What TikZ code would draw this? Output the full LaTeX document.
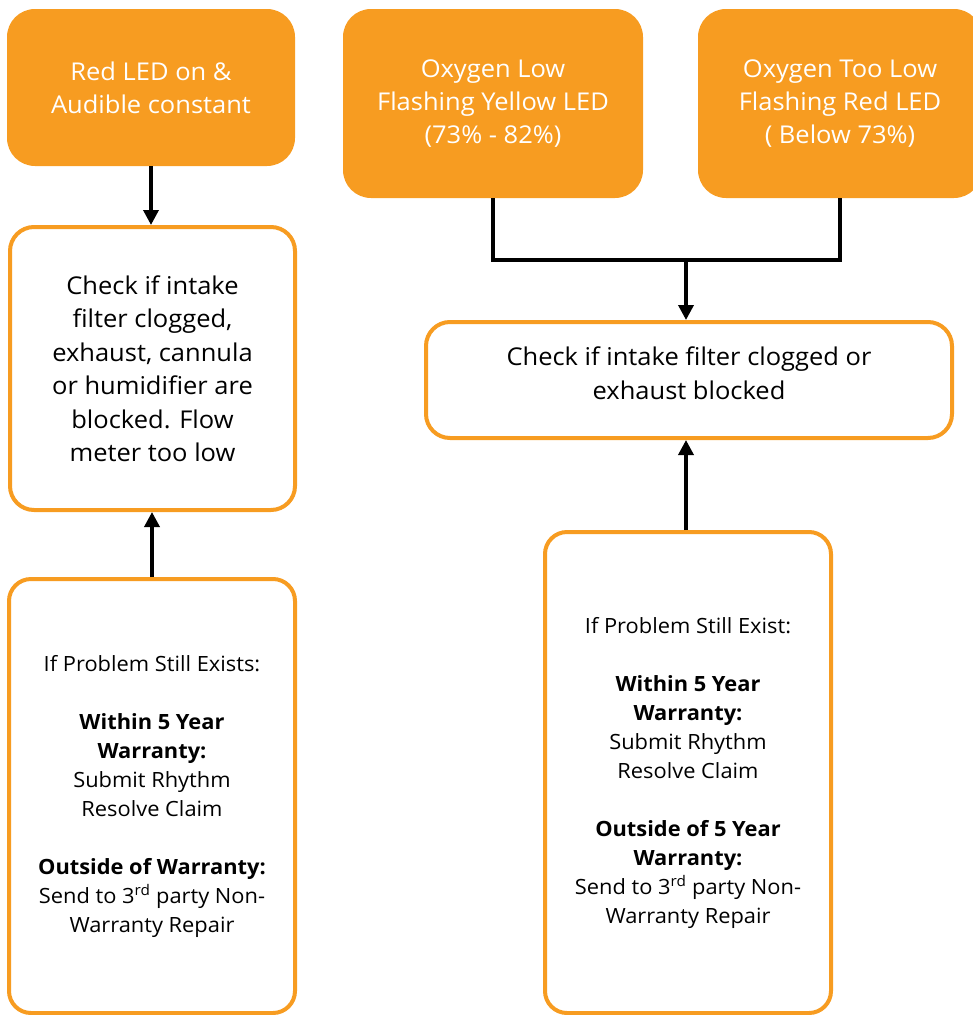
\documentclass[tikz,border=0pt]{standalone}
\usepackage{fontspec}
\setmainfont{Open Sans}[FakeStretch=1.04]
\usetikzlibrary{arrows.meta}
\definecolor{orng}{HTML}{F79C21}
\tikzset{
  obox/.style={fill=orng, rounded corners=28pt, text=white, align=center,
    inner sep=0pt, font=\fontsize{24.5}{33}\selectfont},
  wbox/.style={draw=orng, line width=4pt, fill=white, rounded corners=24pt, align=center,
    inner sep=0pt, font=\fontsize{24.5}{33.5}\selectfont},
  sbox/.style={draw=orng, line width=4pt, fill=white, rounded corners=22pt, align=center,
    inner sep=0pt, font=\fontsize{21}{29}\selectfont},
  conn/.style={line width=3.5pt, black},
  arr/.style={conn, -{Triangle[length=15pt,width=15pt]}}
}
\begin{document}
\begin{tikzpicture}[x=1pt,y=-1pt]
\useasboundingbox (0,0) rectangle (973,1015);
\clip (0,0) rectangle (973,1015);
\node[obox, minimum width=288pt, minimum height=157pt] (A) at (151,87.5)
  {Red LED on \&\\Audible constant};
\node[wbox, minimum width=285pt, minimum height=283pt] (B) at (152.5,368.5)
  {Check if intake\\filter clogged,\\exhaust, cannula\\or humidifier are\\blocked. Flow\\meter too low};
\node[sbox, minimum width=286pt, minimum height=434pt] (C) at (152,796)
  {If Problem Still Exists:\\[29pt]\textbf{Within 5 Year}\\\textbf{Warranty:}\\Submit Rhythm\\Resolve Claim\\[29pt]\textbf{Outside of Warranty:}\\Send to 3\textsuperscript{rd} party Non-\\Warranty Repair};
\node[obox, minimum width=300pt, minimum height=189pt] (D) at (493,103.5)
  {Oxygen Low\\Flashing Yellow LED\\(73\% - 82\%)};
\node[obox, minimum width=284pt, minimum height=189pt] (E) at (840,103.5)
  {Oxygen Too Low\\Flashing Red LED\\( Below 73\%)};
\node[wbox, minimum width=526pt, minimum height=116pt] (F) at (689,380) {};
\node[align=center, inner sep=0pt, font=\fontsize{24.5}{33.5}\selectfont] (Ft) at (689,373)
  {Check if intake filter clogged or\\exhaust blocked};
\node[sbox, minimum width=286pt, minimum height=481pt] (G) at (688,772.5)
  {If Problem Still Exist:\\[29pt]\textbf{Within 5 Year}\\\textbf{Warranty:}\\Submit Rhythm\\Resolve Claim\\[29pt]\textbf{Outside of 5 Year}\\\textbf{Warranty:}\\Send to 3\textsuperscript{rd} party Non-\\Warranty Repair};
\coordinate (j) at (686,260);
\draw[arr] (A.south) -- (A.south |- B.north);
\draw[arr] (C.north) -- (C.north |- B.south);
\draw[conn] (D.south) -- (D.south |- j) -- (E.south |- j) -- (E.south);
\draw[arr] (j) -- (j |- F.north);
\draw[arr] (j |- G.north) -- (j |- F.south);
\end{tikzpicture}
\end{document}
